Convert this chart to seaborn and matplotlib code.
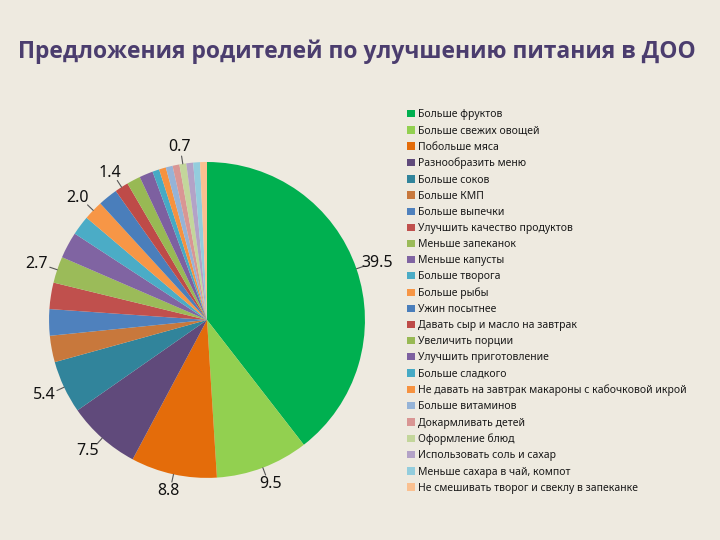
import numpy as np
import matplotlib
matplotlib.use("Agg")
from matplotlib import pyplot as plt
from matplotlib.patches import Patch
import seaborn as sns

categories = [
    "Больше фруктов", "Больше свежих овощей", "Побольше мяса", "Разнообразить меню",
    "Больше соков", "Больше КМП", "Больше выпечки", "Улучшить качество продуктов",
    "Меньше запеканок", "Меньше капусты", "Больше творога", "Больше рыбы",
    "Ужин посытнее", "Давать сыр и масло на завтрак", "Увеличить порции",
    "Улучшить приготовление", "Больше сладкого",
    "Не давать на завтрак макароны с кабочковой икрой", "Больше витаминов",
    "Докармливать детей", "Оформление блюд", "Использовать соль и сахар",
    "Меньше сахара в чай, компот", "Не смешивать творог и свеклу в запеканке",
]
values = [39.5, 9.5, 8.8, 7.5, 5.4, 2.7, 2.7, 2.7, 2.7, 2.7, 2.0, 2.0,
          2.0, 1.4, 1.4, 1.4, 0.7, 0.7, 0.7, 0.7, 0.7, 0.7, 0.7, 0.7]
colors = ["#00B050", "#92D050", "#E46C0A", "#604A7B", "#31849B", "#C8783C",
          "#4F81BD", "#C0504D", "#9BBB59", "#8064A2", "#4BACC6", "#F79646",
          "#4A7EBB", "#BE4B48", "#98B954", "#7D60A0", "#46AAC5", "#F69240",
          "#95B3D7", "#D99694", "#C3D69B", "#B3A2C7", "#93CDDD", "#FAC090"]
# which slices get a value label (as in the original)
labelled = [0, 1, 2, 3, 4, 8, 11, 13, 20]

bg = "#EEEAE0"
sns.set_theme(style="white", rc={"figure.facecolor": bg, "axes.facecolor": bg,
                                 "savefig.facecolor": bg})
plt.rcParams['font.family'] = ['Noto Sans', 'DejaVu Sans']
pal = sns.color_palette(colors)

fig = plt.figure(figsize=(7.2, 5.4), dpi=100)
fig.text(0.496, 0.904, "Предложения родителей по улучшению питания в ДОО",
         ha="center", va="center", fontsize=16.5, fontweight="bold",
         color="#4B3D6E", family=['Open Sans', 'DejaVu Sans'])

ax = fig.add_axes([0.068, 0.115, 0.439, 0.585])
wedges, _ = ax.pie(values, colors=pal, startangle=90, counterclock=False,
                   wedgeprops=dict(linewidth=0))
ax.set_xlim(-1, 1)
ax.set_ylim(-1, 1)
ax.set_aspect("equal")
ax.axis("off")

for i in labelled:
    w = wedges[i]
    ang = np.deg2rad((w.theta1 + w.theta2) / 2)
    c, s = np.cos(ang), np.sin(ang)
    ax.plot([1.0 * c, 1.05 * c], [1.0 * s, 1.05 * s], color="#555555",
            lw=0.8, clip_on=False)
    ax.text(1.14 * c, 1.11 * s, "{:.1f}".format(values[i]), ha="center",
            va="center", fontsize=11.5, color="#111111", clip_on=False)

handles = [Patch(facecolor=pal[i], edgecolor="none") for i in range(len(categories))]
fig.legend(handles, categories, loc="upper left", bbox_to_anchor=(0.560, 0.805),
           frameon=False, fontsize=7.5, labelspacing=0.49, handlelength=0.7,
           handleheight=0.7, handletextpad=0.35, borderaxespad=0,
           labelcolor="#1A1A1A")

fig.savefig("out.png", dpi=100, facecolor=bg)
